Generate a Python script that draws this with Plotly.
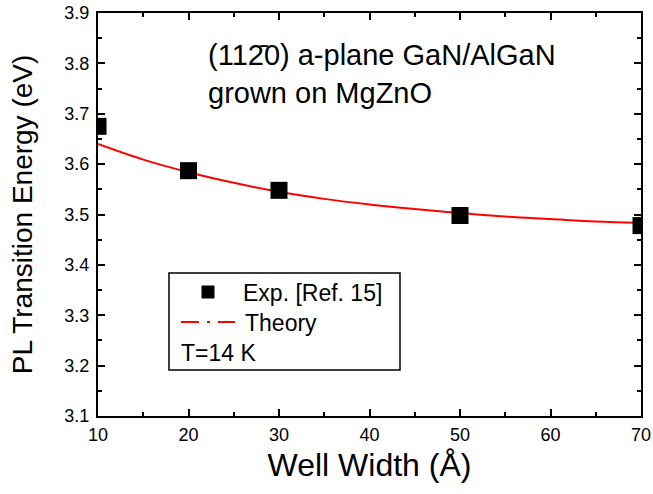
import plotly.graph_objects as go

# Experimental data
exp_width = [10, 20, 30, 50, 70]
exp_energy = [3.675, 3.587, 3.548, 3.498, 3.478]

# Theory curve
th_width = [10, 15, 20, 25, 30, 35, 40, 45, 50, 55, 60, 65, 70]
th_energy = [3.640, 3.609, 3.584, 3.563, 3.545, 3.531, 3.520, 3.511, 3.503, 3.496, 3.491, 3.486, 3.483]

# Legend / labels
exp_label = "Exp. [Ref. 15]"
theory_label = "Theory"
temp_label = "T=14 K"
title_text = "(112\u03040) a-plane GaN/AlGaN<br>grown on MgZnO"

FONT = "Arial, Liberation Sans, sans-serif"

fig = go.Figure()
fig.add_trace(go.Scatter(
    x=th_width, y=th_energy, mode="lines", name=theory_label,
    line=dict(color="#ff0000", width=2, shape="spline"), showlegend=False))
fig.add_trace(go.Scatter(
    x=exp_width, y=exp_energy, mode="markers", name=exp_label,
    marker=dict(symbol="square", size=17, color="black", line=dict(width=0)),
    showlegend=False))

axis_common = dict(
    showline=True, linecolor="black", linewidth=2, mirror="ticks",
    ticks="inside", ticklen=7, tickwidth=1.5, tickcolor="black",
    showgrid=False, zeroline=False, automargin=False,
    ticklabeloverflow="allow",
    tickfont=dict(family=FONT, size=18, color="black"),
)

def px_x(p):
    return (p - 98) / 543.0

def px_y(p):
    return (416 - p) / 403.0

ann_font = dict(family=FONT, size=23, color="black")

fig.update_layout(
    width=653, height=494,
    margin=dict(l=98, r=12, t=13, b=78),
    plot_bgcolor="white", paper_bgcolor="white",
    showlegend=False,
    xaxis=dict(range=[10, 70], dtick=10, tick0=10, ticklabelstandoff=1,
               minor=dict(dtick=5, ticks="inside", ticklen=4, tickcolor="black", tickwidth=1.5),
               title=dict(text="Well Width (Å)", font=dict(family=FONT, size=32, color="black"), standoff=10),
               **axis_common),
    yaxis=dict(range=[3.1, 3.9], dtick=0.1, tickformat=".1f", ticklabelstandoff=3,
               minor=dict(dtick=0.05, ticks="inside", ticklen=4, tickcolor="black", tickwidth=1.5),
               title=dict(text="PL Transition Energy (eV)", font=dict(family=FONT, size=28, color="black"), standoff=24),
               **axis_common),
    shapes=[
        # legend box
        dict(type="rect", xref="paper", yref="paper",
             x0=px_x(169), x1=px_x(400), y0=px_y(370), y1=px_y(273),
             line=dict(color="black", width=1.5), fillcolor="rgba(0,0,0,0)"),
        # legend symbol: square
        dict(type="rect", xref="paper", yref="paper",
             x0=px_x(201.5), x1=px_x(214.5), y0=px_y(298.5), y1=px_y(285.5),
             line=dict(width=0), fillcolor="black"),
        # legend symbol: dash-dot line
        dict(type="line", xref="paper", yref="paper",
             x0=px_x(181), x1=px_x(235), y0=px_y(322), y1=px_y(322),
             line=dict(color="#ff0000", width=2, dash="18px,8px,3px,8px")),
    ],
    annotations=[
        dict(xref="paper", yref="paper", x=px_x(241), y=px_y(293), xanchor="left", yanchor="middle",
             text=exp_label, showarrow=False, font=ann_font),
        dict(xref="paper", yref="paper", x=px_x(243), y=px_y(323), xanchor="left", yanchor="middle",
             text=theory_label, showarrow=False, font=ann_font),
        dict(xref="paper", yref="paper", x=px_x(179), y=px_y(353), xanchor="left", yanchor="middle",
             text=temp_label, showarrow=False, font=ann_font),
        dict(xref="paper", yref="paper", x=px_x(206), y=px_y(74), xanchor="left", yanchor="middle",
             text=title_text, align="left",
             showarrow=False, font=dict(family=FONT, size=29, color="black")),
    ],
)

fig.write_html("out.html", config={"displayModeBar": False},
               post_script="document.body.style.margin='0px';document.body.style.padding='0px';")
